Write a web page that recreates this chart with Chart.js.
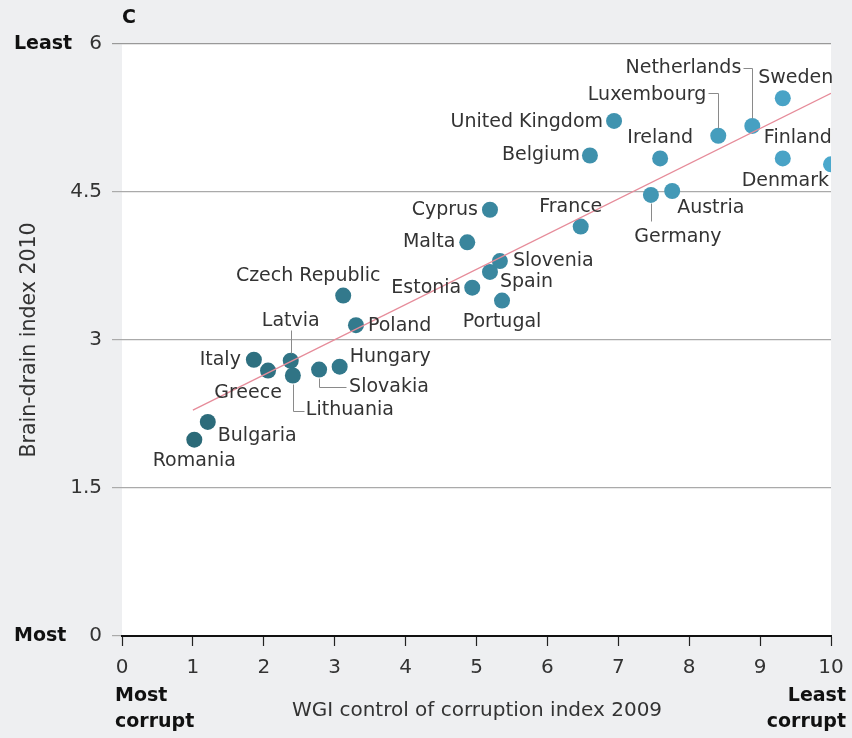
<!DOCTYPE html>
<html>
<head>
<meta charset="utf-8">
<script src="https://cdn.jsdelivr.net/npm/chart.js@4.4.1/dist/chart.umd.min.js"></script>
<style>
  html, body { margin: 0; padding: 0; background: #eeeff1; }
  #wrap { width: 852px; height: 738px; }
</style>
</head>
<body>
<div id="wrap"><canvas id="brain"></canvas></div>
<script>
// values
var countries = ['Romania','Bulgaria','Italy','Greece','Latvia','Lithuania','Slovakia','Hungary',
  'Czech Republic','Poland','Malta','Cyprus','Estonia','Spain','Slovenia','Portugal','France',
  'Belgium','United Kingdom','Ireland','Germany','Austria','Luxembourg','Netherlands','Sweden',
  'Finland','Denmark'];
var corruption = [1.02,1.21,1.86,2.06,2.38,2.41,2.78,3.07,3.12,3.30,4.87,5.19,4.94,5.19,5.33,5.36,6.47,
  6.60,6.94,7.59,7.46,7.76,8.41,8.89,9.32,9.32,10.0];
var brainDrain = [1.99,2.17,2.80,2.69,2.79,2.64,2.70,2.73,3.45,3.15,3.99,4.32,3.53,3.69,3.80,3.40,4.15,
  4.87,5.22,4.84,4.47,4.51,5.07,5.17,5.45,4.84,4.78];
var trendX = [1, 10];
var trendY = [2.29, 5.50];
var yTicks = [0, 1.5, 3, 4.5, 6];

var FONT = "'DejaVu Sans', sans-serif";

// label placement: dx, dy from the point, text align, optional leader line (relative points)
var labelPos = {
  'Romania': [0, 21, 'center'],
  'Bulgaria': [10, 14, 'left'],
  'Italy': [-13, 0, 'right'],
  'Greece': [-20, 22, 'center'],
  'Latvia': [0, -40, 'center', [[0,-8],[0,-31]]],
  'Lithuania': [13, 35, 'left', [[0,8],[0,35],[11,35]]],
  'Slovakia': [30, 17, 'left', [[0,8],[0,17],[27,17]]],
  'Hungary': [10, -10, 'left'],
  'Czech Republic': [-35, -20, 'center'],
  'Poland': [12, 1, 'left'],
  'Malta': [-12, 0, 'right'],
  'Cyprus': [-12, 0, 'right'],
  'Estonia': [-11, 0, 'right'],
  'Spain': [10, 10, 'left'],
  'Slovenia': [13, 0, 'left'],
  'Portugal': [0, 22, 'center'],
  'France': [-10, -19, 'center'],
  'Belgium': [-10, 0, 'right'],
  'United Kingdom': [-11, 1, 'right'],
  'Ireland': [0, -20, 'center'],
  'Germany': [27, 42, 'center', [[0,8],[0,26]]],
  'Austria': [5, 17, 'left'],
  'Luxembourg': [-12, -41, 'right', [[0,-8],[0,-43],[-10,-43]]],
  'Netherlands': [-11, -58, 'right', [[0,-8],[0,-58],[-9,-58]]],
  'Sweden': [13, -20, 'center'],
  'Finland': [15, -20, 'center'],
  'Denmark': [-2, 17, 'right']
};

function pointColor(ctx) {
  var v = ctx.raw ? ctx.raw.x : 5;
  var t = Math.max(0, Math.min(1, (v - 1) / 9));
  var r = Math.round(0x2b + (0x4b - 0x2b) * t);
  var g = Math.round(0x6a + (0xa8 - 0x6a) * t);
  var b = Math.round(0x78 + (0xcc - 0x78) * t);
  return 'rgb(' + r + ',' + g + ',' + b + ')';
}

var pts = [];
for (var i = 0; i < countries.length; i++) {
  pts.push({x: corruption[i], y: brainDrain[i]});
}
var trend = [];
for (var j = 0; j < trendX.length; j++) {
  trend.push({x: trendX[j], y: trendY[j]});
}

var decor = {
  id: 'decor',
  beforeDraw: function(chart) {
    var c = chart.ctx, a = chart.chartArea;
    c.save();
    c.fillStyle = '#ffffff';
    c.fillRect(a.left, a.top, a.right - a.left, a.bottom - a.top);
    c.restore();
  },
  afterDatasetsDraw: function(chart) {
    var c = chart.ctx;
    var meta = chart.getDatasetMeta(1);
    c.save();
    c.font = '19px ' + FONT;
    c.textBaseline = 'middle';
    for (var i = 0; i < countries.length; i++) {
      var p = meta.data[i];
      var lp = labelPos[countries[i]];
      if (lp[3]) {
        c.strokeStyle = '#8a8a8a';
        c.lineWidth = 1;
        c.beginPath();
        for (var k = 0; k < lp[3].length; k++) {
          var px = Math.round(p.x + lp[3][k][0]) + 0.5, py = Math.round(p.y + lp[3][k][1]) + 0.5;
          if (k == 0) c.moveTo(px, py); else c.lineTo(px, py);
        }
        c.stroke();
      }
      c.fillStyle = '#333333';
      c.textAlign = lp[2];
      c.fillText(countries[i], p.x + lp[0], p.y + lp[1]);
    }
    c.restore();
  },
  afterDraw: function(chart) {
    var c = chart.ctx, a = chart.chartArea;
    var ys = chart.scales.y;
    c.save();
    c.fillStyle = '#111';
    c.textBaseline = 'middle';
    c.font = 'bold 19px ' + FONT;
    c.textAlign = 'left';
    c.fillText('C', a.left, 18);
    c.fillText('Least', 14, ys.getPixelForValue(6));
    c.fillText('Most', 14, ys.getPixelForValue(0));
    c.fillText('Most', a.left - 7, 696);
    c.fillText('corrupt', a.left - 7, 722);
    c.textAlign = 'right';
    c.fillText('Least', 846, 696);
    c.fillText('corrupt', 846, 722);
    c.fillStyle = '#333';
    c.font = '20px ' + FONT;
    c.textAlign = 'center';
    c.fillText('WGI control of corruption index 2009', 477, 711);
    c.translate(30, 340);
    c.rotate(-Math.PI / 2);
    c.font = '20.5px ' + FONT;
    c.fillText('Brain-drain index 2010', 0, 0);
    c.restore();
  }
};

new Chart(document.getElementById('brain'), {
  type: 'scatter',
  data: {
    datasets: [
      {
        type: 'line',
        data: trend,
        borderColor: '#e68c9a',
        borderWidth: 1.3,
        pointRadius: 0,
        fill: false
      },
      {
        data: pts,
        backgroundColor: pointColor,
        borderWidth: 0,
        pointRadius: 8,
        pointHoverRadius: 8
      }
    ]
  },
  plugins: [decor],
  options: {
    responsive: true,
    maintainAspectRatio: false,
    animation: false,
    layout: { padding: { top: 44, right: 21, left: 0, bottom: 0 } },
    plugins: { legend: { display: false }, tooltip: { enabled: false } },
    scales: {
      x: {
        type: 'linear',
        min: 0, max: 10,
        afterFit: function(s) { s.height = 102; s.paddingRight = 0; },
        ticks: { stepSize: 1, color: '#333', font: { family: FONT, size: 20 }, padding: 10 },
        grid: { drawOnChartArea: false, tickLength: 10, color: '#222', tickWidth: 1.2 },
        border: { color: '#111', width: 2 }
      },
      y: {
        min: 0, max: 6,
        afterFit: function(s) { s.width = 122; },
        afterBuildTicks: function(s) { s.ticks = yTicks.map(function(v) { return {value: v}; }); },
        ticks: { color: '#333', font: { family: FONT, size: 20 }, padding: 10,
          callback: function(v) { return String(v); } },
        grid: { color: function(ctx) { return ctx.tick && ctx.tick.value == 6 ? '#999' : '#aaa'; },
          tickLength: 10, lineWidth: 1.2 },
        border: { display: false }
      }
    }
  }
});
</script>
</body>
</html>
